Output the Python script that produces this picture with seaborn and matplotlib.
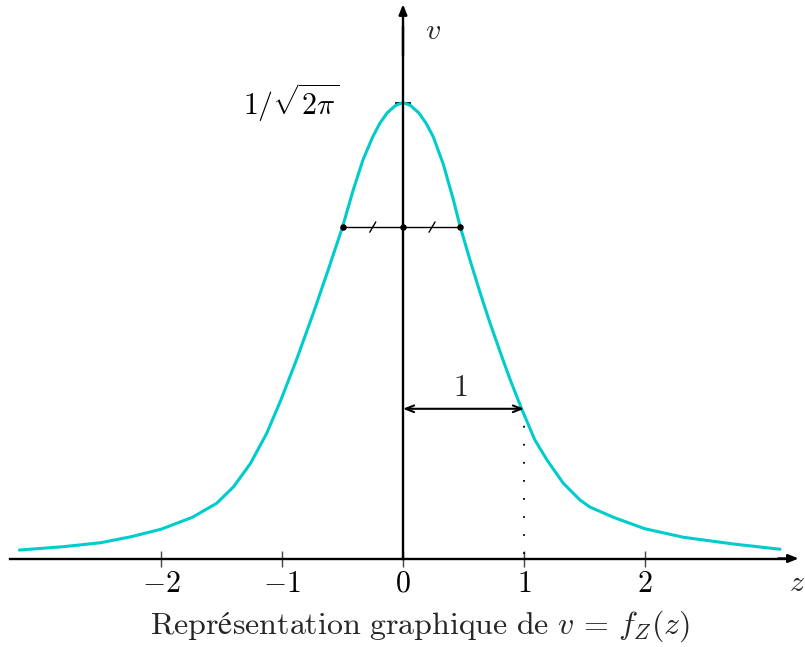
import numpy as np
import pandas as pd
import matplotlib
matplotlib.use("Agg")
import matplotlib.pyplot as plt
import seaborn as sns

# Density curve v = f_Z(z)
z_vals = [-3.17, -2.80, -2.50, -2.25, -2.00, -1.74, -1.54, -1.40, -1.26, -1.126, -1.01, -0.88,
          -0.74, -0.62, -0.50, -0.41, -0.33, -0.25, -0.19, -0.13, -0.06, 0.00,
          0.06, 0.13, 0.19, 0.25, 0.333, 0.416, 0.471, 0.554, 0.636, 0.719, 0.829,
          0.884, 0.98, 1.09, 1.19, 1.325, 1.463, 1.545, 1.738, 1.997, 2.316,
          2.730, 3.116]
v_vals = [0.0074, 0.0104, 0.0138, 0.0190, 0.0256, 0.0361, 0.0483, 0.0628, 0.0833, 0.1096, 0.1385, 0.174,
          0.215, 0.252, 0.290, 0.323, 0.349, 0.369, 0.381, 0.390, 0.3965, 0.3989,
          0.3965, 0.390, 0.381, 0.369, 0.345, 0.314, 0.291, 0.261, 0.233, 0.206, 0.173,
          0.157, 0.131, 0.1037, 0.0862, 0.0658, 0.0512, 0.045, 0.0361, 0.0261, 0.0186,
          0.0127, 0.0081]

# Horizontal segment across the curve (ends and midpoint marked)
seg_z = [-0.496, 0.0, 0.471]
seg_v = 0.290
slash_z = [-0.25, 0.24]

# Unit width arrow and its dotted drop line
unit_v = 0.131
unit_z = [0.0, 1.0]

peak_v = 1 / np.sqrt(2 * np.pi)
x_ticks = [-2, -1, 0, 1, 2]
x_tick_labels = [r"$-2$", r"$-1$", r"$0$", r"$1$", r"$2$"]

sns.set_theme(style="white")
plt.rcParams["font.family"] = ["cmr10", "DejaVu Serif"]
plt.rcParams["mathtext.fontset"] = "cm"
plt.rcParams["axes.formatter.use_mathtext"] = True
plt.rcParams["axes.unicode_minus"] = False

fig = plt.figure(figsize=(8.05, 6.47), dpi=100)
ax = fig.add_axes([0, 0, 1, 1])
ax.set_facecolor("white")

# framing: z=0 at 403 px, 121 px per unit; v=0 at 558.5 px
ax.set_xlim(-403 / 121, (805 - 403) / 121)
ax.set_ylim((558.5 - 647) * 0.000875, 558.5 * 0.000875)

curve = pd.DataFrame({"z": z_vals, "v": v_vals})
sns.lineplot(data=curve, x="z", y="v", ax=ax, color="#00CCCC", lw=2.2,
             sort=False, estimator=None, zorder=3)
for line in ax.lines:
    line.set_solid_joinstyle("round")

# axes through the origin
for side in ["top", "right"]:
    ax.spines[side].set_visible(False)
ax.spines["bottom"].set_position(("data", 0))
ax.spines["left"].set_position(("data", 0))
ax.spines["bottom"].set_bounds(-3.25, 3.2)
ax.spines["left"].set_bounds(0, 0.465)
for side in ["bottom", "left"]:
    ax.spines[side].set_color("black")
    ax.spines[side].set_linewidth(1.7)
    ax.spines[side].set_zorder(4)

ax.annotate("", xy=(3.27, 0), xytext=(3.1, 0),
            arrowprops=dict(arrowstyle="-|>,head_length=0.5,head_width=0.2",
                            color="black", lw=1.7, shrinkA=0, shrinkB=0))
ax.annotate("", xy=(0, 0.485), xytext=(0, 0.44),
            arrowprops=dict(arrowstyle="-|>,head_length=0.5,head_width=0.2",
                            color="black", lw=1.7, shrinkA=0, shrinkB=0))

ax.set_xticks(x_ticks)
ax.set_xticklabels(x_tick_labels, fontsize=21.5)
ax.tick_params(axis="x", direction="inout", length=11, width=1.0, color="#444444",
               pad=3, bottom=True, labelcolor="black")
ax.set_yticks([peak_v])
ax.set_yticklabels([r"$1/\sqrt{2\pi}$"], fontsize=21.5)
ax.tick_params(axis="y", direction="inout", length=12, width=1.2, color="black",
               pad=40, left=True, labelcolor="black")
for lab in ax.get_yticklabels():
    lab.set_verticalalignment("center")
ax.set_xlabel("")
ax.set_ylabel("")
ax.grid(False)

# segment with end markers and equal-length slashes
ax.plot([seg_z[0], seg_z[-1]], [seg_v, seg_v], color="black", lw=1.0, zorder=5)
sns.scatterplot(x=seg_z, y=[seg_v] * len(seg_z), ax=ax, color="black", s=22,
                edgecolor="black", linewidth=0, zorder=6, legend=False)
for sz in slash_z:
    ax.plot([sz - 0.025, sz + 0.025], [seg_v - 0.0045, seg_v + 0.0045],
            color="black", lw=1.0, zorder=5)

# unit arrow and dotted drop line
ax.annotate("", xy=(unit_z[1], unit_v), xytext=(unit_z[0], unit_v),
            arrowprops=dict(arrowstyle="<->,head_length=0.5,head_width=0.2",
                            color="black", lw=1.5, shrinkA=0, shrinkB=0), zorder=5)
ax.plot([unit_z[1], unit_z[1]], [0.004, unit_v - 0.006], color="black", lw=1.3,
        linestyle=(0, (1, 9)), zorder=2)
ax.text(0.47, unit_v + 0.006, r"$1$", fontsize=21.5, ha="center", va="bottom")

# axis names and caption
ax.text(0.25, 0.461, r"$v$", fontsize=21.5, ha="center", va="center")
ax.text(3.255, -0.022, r"$z$", fontsize=21.5, ha="center", va="center")
fig.text(420 / 805, 1 - 626 / 647,
         r"$\mathrm{Représentation\ graphique\ de}\ v\, =\, f_Z(z)$",
         fontsize=23, ha="center", va="center")

fig.savefig("out.png", dpi=100, facecolor="white")
